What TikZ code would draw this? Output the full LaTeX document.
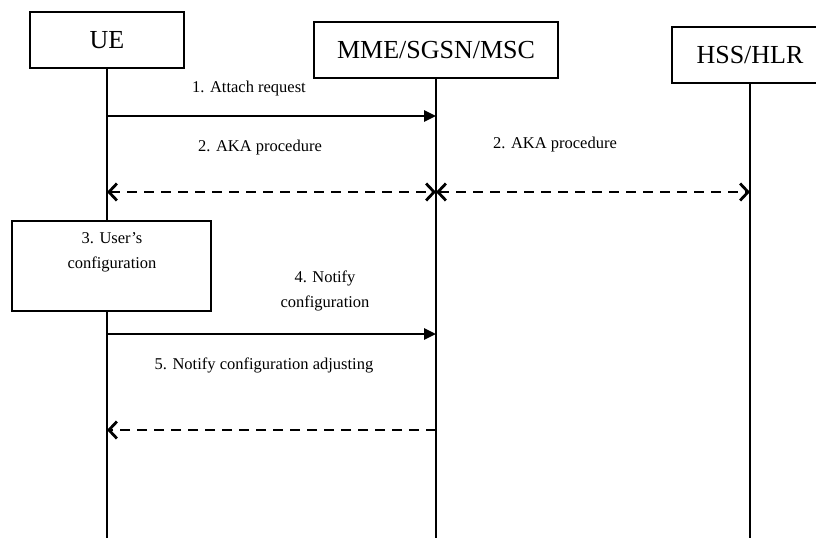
\documentclass[tikz,border=0pt]{standalone}
\usepackage{fontspec}
\setmainfont{Liberation Serif}
\usetikzlibrary{arrows.meta}
\begin{document}
\begin{tikzpicture}[x=1pt,y=-1pt,
  entity/.style={draw,line width=2pt,minimum height=56pt,inner sep=0pt,font=\fontsize{26}{28}\selectfont},
  procbox/.style={draw,line width=2pt,minimum width=199pt,minimum height=90pt,inner sep=0pt},
  lifeline/.style={line width=1.8pt},
  msg/.style={font=\fontsize{16.5}{25}\selectfont,align=center,inner sep=0pt},
  barb/.tip={Straight Barb[length=8pt,width=17pt,line width=2.8pt]},
  req/.style={line width=2.8pt,-{Triangle[length=12pt,width=11pt]}},
  resp/.style={line width=2.8pt,dash pattern=on 10pt off 7pt,barb-barb},
  back/.style={line width=2.8pt,dash pattern=on 10pt off 7pt,-barb}]
\useasboundingbox (0,0) rectangle (816,538);
\clip (0,0) rectangle (816,538);

% participants
\node[entity,minimum width=154pt] (ue)  at (107,40) {UE};
\node[entity,minimum width=244pt] (mme) at (436,50) {MME/SGSN/MSC};
\node[entity,minimum width=156pt] (hss) at (750,55) {HSS/HLR};

% lifeline ends
\coordinate (ueEnd)  at (107,538);
\coordinate (mmeEnd) at (436,538);
\coordinate (hssEnd) at (750,538);

% local procedure on the UE
\node[procbox,fill=white] (conf) at (111.5,266) {};

\draw[lifeline] (ue) -- (ue |- conf.north);
\draw[lifeline] (ue |- conf.south) -- (ueEnd);
\draw[lifeline] (mme) -- (mmeEnd);
\draw[lifeline] (hss) -- (hssEnd);

% message anchor points on the lifelines
\coordinate (ue1)  at (107,116);  \coordinate (mme1) at (436,116);
\coordinate (ue2)  at (107,192);  \coordinate (mme2) at (436,192);  \coordinate (hss2) at (750,192);
\coordinate (ue4)  at (107,334);  \coordinate (mme4) at (436,334);
\coordinate (ue5)  at (107,430);  \coordinate (mme5) at (436,430);

% messages
\draw[req]  (ue1) -- (mme1);
\draw[resp] (ue2) -- (mme2);
\draw[resp] (mme2) -- (hss2);
\draw[req]  (ue4) -- (mme4);
\draw[back] (mme5) -- (ue5);

% labels
\node[msg] (l1)  at (249,89)  {1. Attach request};
\node[msg] (l2a) at (260,148) {2. AKA procedure};
\node[msg] (l2b) at (555,145) {2. AKA procedure};
\node[msg] (l3)  at (112,252.5) {3. User’s\\configuration};
\node[msg] (l4)  at (325,290.5) {4. Notify\\configuration};
\node[msg] (l5)  at (264,365) {5. Notify configuration adjusting};
\end{tikzpicture}
\end{document}
